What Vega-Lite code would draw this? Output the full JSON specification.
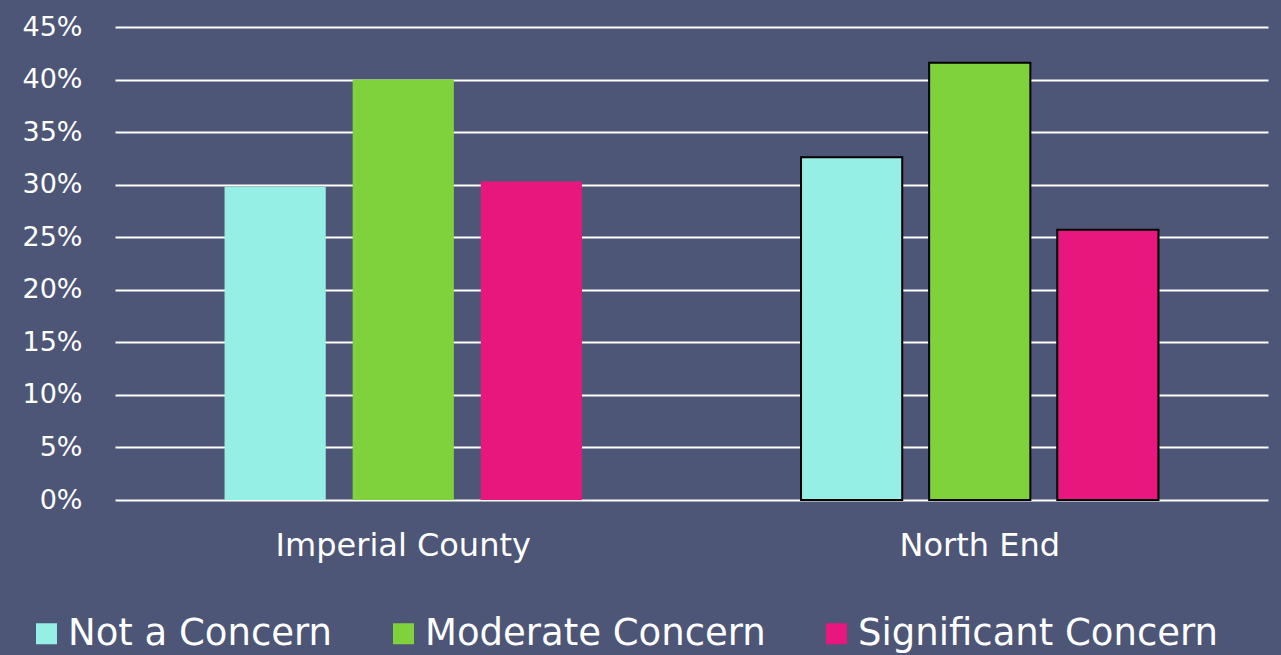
{
  "$schema": "https://vega.github.io/schema/vega-lite/v6.json",
  "width": 1153,
  "height": 473,
  "autosize": {"type": "none"},
  "padding": {"left": 115, "top": 27, "right": 13, "bottom": 155},
  "background": "#4d5676",
  "data": {
    "values": [
      {"region": "Imperial County", "level": "Not a Concern", "pct": 0.298},
      {"region": "Imperial County", "level": "Moderate Concern", "pct": 0.400},
      {"region": "Imperial County", "level": "Significant Concern", "pct": 0.303},
      {"region": "North End", "level": "Not a Concern", "pct": 0.326},
      {"region": "North End", "level": "Moderate Concern", "pct": 0.416},
      {"region": "North End", "level": "Significant Concern", "pct": 0.257}
    ]
  },
  "mark": {"type": "bar", "stroke": "#000000"},
  "encoding": {
    "x": {
      "field": "region", "type": "nominal", "sort": null,
      "scale": {"paddingInner": 0.38, "paddingOuter": 0.19},
      "axis": {"title": null, "labelAngle": 0, "labelFont": "DejaVu Sans", "labelFontSize": 32, "labelLimit": 500, "labelColor": "#ffffff", "labelPadding": 30, "domain": false, "ticks": false}
    },
    "xOffset": {
      "field": "level", "type": "nominal", "sort": ["Not a Concern", "Moderate Concern", "Significant Concern"],
      "scale": {"paddingInner": 0.21, "paddingOuter": 0}
    },
    "y": {
      "field": "pct", "type": "quantitative",
      "scale": {"domain": [0, 0.45], "nice": false},
      "axis": {"title": null, "format": ".0%", "values": [0, 0.05, 0.1, 0.15, 0.2, 0.25, 0.3, 0.35, 0.4, 0.45], "labelFont": "DejaVu Sans", "labelFontSize": 27, "labelColor": "#ffffff", "labelPadding": 33, "domain": false, "ticks": false, "grid": true, "gridColor": "#ffffff", "gridWidth": 2, "gridOpacity": 1}
    },
    "color": {
      "field": "level", "type": "nominal", "sort": ["Not a Concern", "Moderate Concern", "Significant Concern"],
      "scale": {"domain": ["Not a Concern", "Moderate Concern", "Significant Concern"], "range": ["#96efe4", "#80d23c", "#e8177d"]},
      "legend": {"title": null, "orient": "none", "legendX": -87, "legendY": 588, "direction": "horizontal", "columns": 3, "symbolType": "square", "symbolSize": 441, "symbolStrokeWidth": 0, "symbolOpacity": 1, "labelFont": "DejaVu Sans", "labelFontSize": 37, "labelColor": "#ffffff", "labelLimit": 600, "columnPadding": 52, "labelOffset": 3}
    },
    "strokeWidth": {"condition": {"test": "datum.region === 'North End'", "value": 2}, "value": 0}
  },
  "config": {"view": {"stroke": null}}
}
